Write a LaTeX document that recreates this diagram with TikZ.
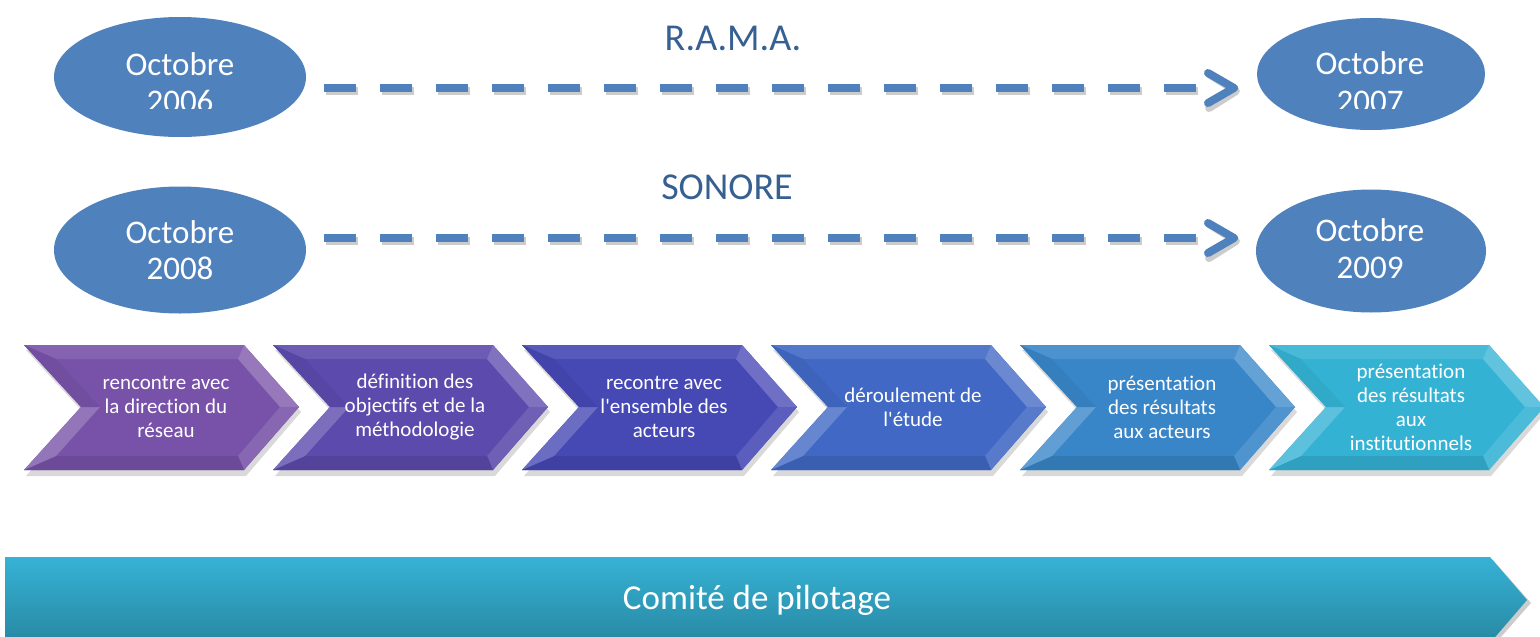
\documentclass[tikz,border=0pt]{standalone}
\usepackage{fontspec}
\setmainfont{Carlito}[Ligatures={TeXOff,NoCommon}]
\usetikzlibrary{shapes.geometric}
\definecolor{ellblue}{RGB}{79,129,189}
\definecolor{titleblue}{RGB}{55,96,146}
\definecolor{chA}{RGB}{120,82,168}
\definecolor{chB}{RGB}{92,74,172}
\definecolor{chC}{RGB}{70,72,180}
\definecolor{chD}{RGB}{64,104,196}
\definecolor{chE}{RGB}{56,134,200}
\definecolor{chF}{RGB}{52,178,212}
\definecolor{barTop}{RGB}{54,178,214}
\definecolor{barBot}{RGB}{40,136,162}
\tikzset{
  ell/.style={ellipse, fill=ellblue, draw=none, inner sep=0pt},
  etext/.style={text=white, font=\fontsize{33}{36}\selectfont, inner sep=0pt, anchor=base},
  title/.style={text=titleblue, font=\fontsize{38}{44}\selectfont, inner sep=0pt},
  dashline/.style={draw=ellblue, line width=8pt, dash pattern=on 32pt off 24pt},
  dashshadow/.style={draw=black, opacity=0.2, line width=8pt, dash pattern=on 32pt off 24pt},
  headline/.style={draw=ellblue, line width=8pt, line cap=round, line join=round},
  headshadow/.style={draw=black, opacity=0.2, line width=8pt, line cap=round, line join=round},
  chevtext/.style={text=white, align=center, font=\fontsize{21}{24}\selectfont, inner sep=0pt},
  bartext/.style={text=white, font=\fontsize{35}{40}\selectfont, inner sep=0pt},
}
\newcommand\mychev[4]{%
\begin{scope}[shift={(#1,0)}]
\fill[black,opacity=.15] (2,350)--(222,350)--(277,412)--(222,476)--(2,476)--(59,412)--cycle;
\fill[#2] (0,345)--(220,345)--(275,407)--(220,470)--(0,470)--(57,407)--cycle;
\fill[#2!90!white] (0,345)--(220,345)--(214,359)--(32,359)--cycle;
\fill[#2!78!white] (220,345)--(275,407)--(256,407)--(214,359)--cycle;
\fill[#2!88!white] (275,407)--(220,470)--(214,456)--(256,407)--cycle;
\fill[#2!90!black] (220,470)--(0,470)--(32,456)--(214,456)--cycle;
\fill[#2!80!white] (0,470)--(57,407)--(76,407)--(32,456)--cycle;
\fill[#2!95!black] (57,407)--(0,345)--(32,359)--(76,407)--cycle;
\node[chevtext] (#3) at (142,407) {#4};
\end{scope}}
\begin{document}
\begin{tikzpicture}[x=1pt,y=-1pt]
\useasboundingbox (0,0) rectangle (1540,637);
\clip (0,0) rectangle (1540,637);
\fill[white] (0,0) rectangle (1540,637);

% ellipses
\node[ell, minimum width=252pt, minimum height=120pt] (e1) at (180,77) {};
\node[ell, minimum width=228pt, minimum height=112pt] (e2) at (1371,74) {};
\node[ell, minimum width=252pt, minimum height=127pt] (e3) at (180,250) {};
\node[ell, minimum width=230pt, minimum height=123pt] (e4) at (1371,251) {};

\begin{scope}
\clip (0,0) rectangle (1540,108);
\node[etext] (t1a) at (180,75) {Octobre};
\node[etext] (t1b) at (180,112) {2006};
\node[etext] (t2a) at (1370,74) {Octobre};
\node[etext] (t2b) at (1370,112) {2007};
\end{scope}
\node[etext] (t3a) at (180,243) {Octobre};
\node[etext] (t3b) at (180,279) {2008};
\node[etext] (t4a) at (1370,241) {Octobre};
\node[etext] (t4b) at (1370,278) {2009};

% titles
\node[title] (rama) at (733,38) {R.A.M.A.};
\node[title] (sonore) at (727,187) {SONORE};

% dashed arrows
\coordinate (s1) at (324,88);
\coordinate (u1) at (1196,88);
\coordinate (h1) at (1234,88);
\coordinate (s2) at (324,238);
\coordinate (u2) at (1196,238);
\coordinate (h2) at (1234,238);
\foreach \s/\u/\h in {s1/u1/h1, s2/u2/h2}{
  \draw[dashshadow] ([shift={(2,3)}]\s) -- ([shift={(2,3)}]\u);
  \draw[headshadow] ([shift={(-25,-14)}]\h) -- ([shift={(2,3)}]\h) -- ([shift={(-25,20)}]\h);
  \draw[dashline] (\s) -- (\u);
  \draw[headline] ([shift={(-26,-15)}]\h) -- (\h) -- ([shift={(-26,15)}]\h);
}

% chevrons
\mychev{24}{chA}{c1}{rencontre avec\\la direction du\\réseau}
\mychev{273}{chB}{c2}{définition des\\objectifs et de la\\méthodologie}
\mychev{522}{chC}{c3}{recontre avec\\l'ensemble des\\acteurs}
\mychev{771}{chD}{c4}{déroulement de\\l'étude}
\mychev{1020}{chE}{c5}{présentation\\des résultats\\aux acteurs}
\mychev{1269}{chF}{c6}{présentation\\des résultats\\aux\\institutionnels}

% bottom bar
\fill[black,opacity=.2] (8,560) -- (1493,560) -- (1531,603) -- (1493,646) -- (8,646) -- cycle;
\shade[top color=barTop, bottom color=barBot] (5,557) -- (1490,557) -- (1527,600) -- (1490,643) -- (5,643) -- cycle;
\node[bartext] (comite) at (757,600) {Comité de pilotage};
\end{tikzpicture}
\end{document}
